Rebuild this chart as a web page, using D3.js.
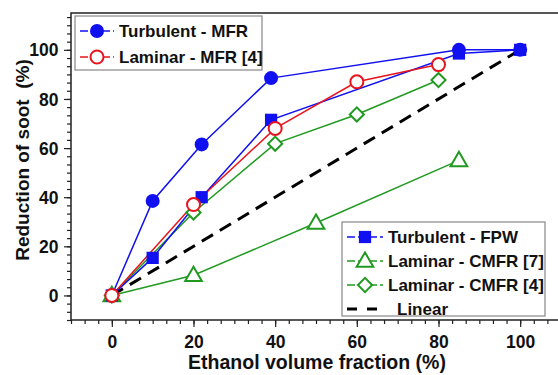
<!DOCTYPE html>
<html>
<head>
<meta charset="utf-8">
<script src="https://cdn.jsdelivr.net/npm/d3@7"></script>
<style>
  body { margin: 0; background: #fff; }
  text { font-family: "Liberation Sans", Arial, sans-serif; font-weight: bold; fill: #111; }
</style>
</head>
<body>
<div id="chart"></div>
<script>
// Series values
const turbMfrX = [0, 10, 22, 39, 85, 100];
const turbMfrY = [0, 38.5, 61.5, 88.5, 100, 100];

const turbFpwX = [0, 10, 22, 39, 85, 100];
const turbFpwY = [0, 15.3, 40, 71.5, 98.5, 100];

const lamMfrX = [0, 20, 40, 60, 80];
const lamMfrY = [0, 37, 68, 87, 94];

const lamCmfr7X = [0, 20, 50, 85];
const lamCmfr7Y = [0, 8.2, 29.5, 55];

const lamCmfr4X = [0, 20, 40, 60, 80];
const lamCmfr4Y = [0, 33.8, 61.8, 73.7, 87.7];

const linearX = [0, 100];
const linearY = [0, 100];

const xTicks = [0, 20, 40, 60, 80, 100];
const yTicks = [0, 20, 40, 60, 80, 100];

const BLUE = "#1010f0", RED = "#e8141c", GREEN = "#229a22";

const W = 558, H = 375;
const plotLeft = 71, plotTop = 13, plotRight = 561, plotBottom = 320;

const svg = d3.select("#chart").append("svg")
  .attr("width", W).attr("height", H);

const x = d3.scaleLinear().domain([-10, 110]).range([plotLeft, plotRight]);
const y = d3.scaleLinear().domain([-10, 115]).range([plotBottom, plotTop]);

// frame
svg.append("rect")
  .attr("x", plotLeft).attr("y", plotTop)
  .attr("width", plotRight - plotLeft).attr("height", plotBottom - plotTop)
  .attr("fill", "none").attr("stroke", "#222").attr("stroke-width", 1.5);

// minor ticks: 5 between each pair of majors
const minorX = d3.range(-10, 110.01, 20 / 6);
const minorY = d3.range(-10, 115.01, 20 / 6).filter(v => v <= 115);

const xAxis = svg.append("g").attr("transform", `translate(0,${plotBottom})`);
xAxis.call(d3.axisBottom(x).tickValues(minorX).tickSize(4).tickFormat(""));
xAxis.append("g").call(d3.axisBottom(x).tickValues(xTicks).tickSize(7).tickFormat(d3.format("d")));

const yAxis = svg.append("g").attr("transform", `translate(${plotLeft},0)`);
yAxis.call(d3.axisLeft(y).tickValues(minorY).tickSize(4).tickFormat(""));
yAxis.append("g").call(d3.axisLeft(y).tickValues(yTicks).tickSize(7).tickFormat(d3.format("d")));

svg.selectAll(".domain").remove();
svg.selectAll(".tick line").attr("stroke", "#222").attr("stroke-width", 1.2);
xAxis.selectAll(".tick text").attr("font-size", 17.5).attr("dy", "1.0em").attr("fill", "#111");
yAxis.selectAll(".tick text").attr("font-size", 17.5).attr("dx", "-0.15em").attr("dy", "0.35em").attr("fill", "#111");

// axis titles
svg.append("text")
  .attr("x", 317).attr("y", 369)
  .attr("text-anchor", "middle").attr("font-size", 19.5)
  .text("Ethanol volume fraction (%)");

svg.append("text")
  .attr("transform", "translate(29,160) rotate(-90)")
  .attr("text-anchor", "middle").attr("font-size", 19)
  .attr("xml:space", "preserve")
  .text("Reduction of soot  (%)");

const line = d3.line().x(d => x(d[0])).y(d => y(d[1]));
const zip = (xs, ys) => xs.map((v, i) => [v, ys[i]]);

const series = [
  { name: "Linear", pts: zip(linearX, linearY), color: "#000", dash: "13,8", width: 3, marker: null },
  { name: "Laminar - CMFR [7]", pts: zip(lamCmfr7X, lamCmfr7Y), color: GREEN, width: 1.5, marker: "triangle" },
  { name: "Laminar - CMFR [4]", pts: zip(lamCmfr4X, lamCmfr4Y), color: GREEN, width: 1.5, marker: "diamond" },
  { name: "Turbulent - FPW", pts: zip(turbFpwX, turbFpwY), color: BLUE, width: 1.5, marker: "square" },
  { name: "Turbulent - MFR", pts: zip(turbMfrX, turbMfrY), color: BLUE, width: 1.5, marker: "circle" },
  { name: "Laminar - MFR [4]", pts: zip(lamMfrX, lamMfrY), color: RED, width: 1.5, marker: "ocircle" }
];

function drawMarker(g, type, color, cx, cy) {
  if (type === "circle") {
    g.append("circle").attr("cx", cx).attr("cy", cy).attr("r", 7).attr("fill", color);
  } else if (type === "ocircle") {
    g.append("circle").attr("cx", cx).attr("cy", cy).attr("r", 6.5)
      .attr("fill", "#fff").attr("stroke", color).attr("stroke-width", 2);
  } else if (type === "square") {
    g.append("path").attr("transform", `translate(${cx},${cy})`)
      .attr("d", d3.symbol(d3.symbolSquare, 150)()).attr("fill", color);
  } else if (type === "diamond") {
    g.append("path").attr("transform", `translate(${cx},${cy}) rotate(45)`)
      .attr("d", d3.symbol(d3.symbolSquare, 100)())
      .attr("fill", "#fff").attr("stroke", color).attr("stroke-width", 2);
  } else if (type === "triangle") {
    g.append("path").attr("transform", `translate(${cx},${cy + 1})`)
      .attr("d", d3.symbol(d3.symbolTriangle, 120)())
      .attr("fill", "#fff").attr("stroke", color).attr("stroke-width", 2);
  }
}

const plot = svg.append("g");
series.forEach(s => {
  plot.append("path").datum(s.pts)
    .attr("d", line).attr("fill", "none")
    .attr("stroke", s.color).attr("stroke-width", s.width)
    .attr("stroke-dasharray", s.dash || null);
});
series.forEach(s => {
  if (!s.marker) return;
  s.pts.forEach(p => drawMarker(plot, s.marker, s.color, x(p[0]), y(p[1])));
});

// legends
function legend(box, items) {
  const g = svg.append("g");
  g.append("rect")
    .attr("x", box.x).attr("y", box.y).attr("width", box.w).attr("height", box.h)
    .attr("fill", "#fff").attr("stroke", "#888").attr("stroke-width", 1.2);
  items.forEach((it, i) => {
    const s = series.find(d => d.name === it);
    const ry = box.y + box.first + i * box.step;
    g.append("line")
      .attr("x1", box.x + 5).attr("x2", box.x + 5 + box.len)
      .attr("y1", ry).attr("y2", ry)
      .attr("stroke", s.color).attr("stroke-width", s.marker ? 1.5 : 3)
      .attr("stroke-dasharray", s.marker ? "8,3" : "10,10");
    if (s.marker) drawMarker(g, s.marker, s.color, box.x + 5 + box.len / 2, ry);
    g.append("text")
      .attr("x", box.x + box.len + 10 + (s.marker ? 0 : 9)).attr("y", ry + 6)
      .attr("font-size", 17).text(s.name);
  });
}

legend({ x: 75, y: 16, w: 187, h: 54, first: 15, step: 26, len: 34 },
  ["Turbulent - MFR", "Laminar - MFR [4]"]);
legend({ x: 342, y: 222, w: 203, h: 94, first: 15, step: 24, len: 36 },
  ["Turbulent - FPW", "Laminar - CMFR [7]", "Laminar - CMFR [4]", "Linear"]);
</script>
</body>
</html>
